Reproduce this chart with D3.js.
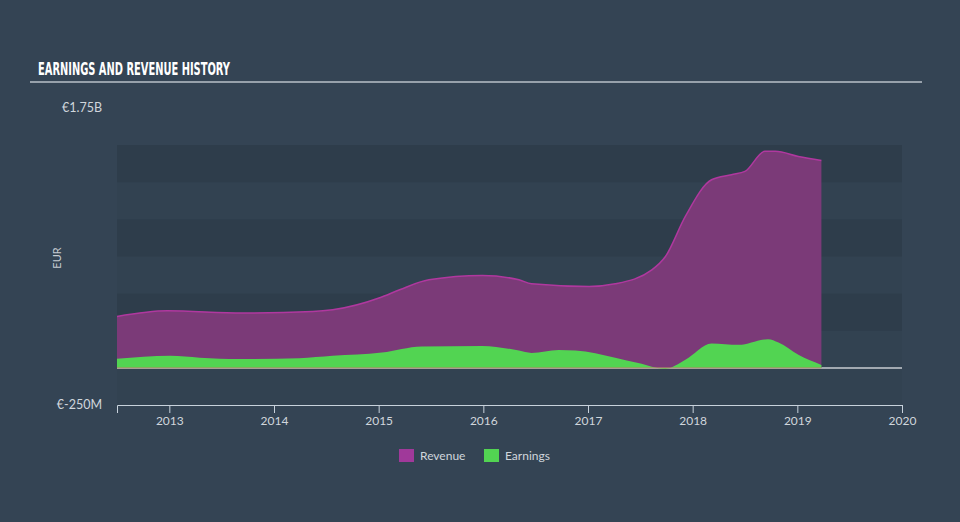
<!DOCTYPE html>
<html>
<head>
<meta charset="utf-8">
<script src="https://cdn.jsdelivr.net/npm/d3@7"></script>
<style>
  html, body { margin: 0; padding: 0; background: #344454; }
  svg { display: block; }
</style>
</head>
<body>
<svg id="chart" width="960" height="522"></svg>
<script>
// data (decimal year, millions EUR)
var revDates = [2012.5, 2012.98, 2013.7, 2014.37, 2014.56, 2015.01, 2015.2, 2015.48, 2015.99, 2016.34, 2016.46, 2017.01, 2017.26, 2017.61, 2017.74, 2017.93, 2018.18, 2018.37, 2018.5, 2018.69, 2018.79, 2019.01, 2019.23];
var revenue  = [346, 384, 369, 379, 391, 472, 526, 593, 622, 593, 566, 548, 566, 660, 750, 1020, 1267, 1301, 1323, 1458, 1458, 1424, 1397];
var earnDates = [2012.5, 2013.01, 2013.29, 2013.67, 2014.24, 2014.56, 2015.03, 2015.41, 2015.99, 2016.34, 2016.46, 2016.72, 2016.88, 2017.26, 2017.48, 2017.74, 2017.93, 2018.18, 2018.44, 2018.72, 2018.82, 2019.01, 2019.23];
var earnings  = [61, 81, 69, 59, 65, 81, 103, 144, 148, 117, 101, 121, 117, 69, 32, -7, 54, 164, 155, 193, 171, 88, 20];
var yearTicks = [2013, 2014, 2015, 2016, 2017, 2018, 2019, 2020];
var bandEdges = [1500, 1250, 1000, 750, 500, 250, 0];

var svg = d3.select("#chart");

var x = d3.scaleLinear().domain([2012.5, 2020]).range([117, 902]);
var y = d3.scaleLinear().domain([-250, 1750]).range([405, 108]);

// title
svg.append("text")
    .attr("x", 38).attr("y", 75)
    .attr("fill", "#ffffff")
    .attr("font-family", "'Liberation Sans Narrow', 'DejaVu Sans Condensed', sans-serif")
    .attr("font-weight", "bold")
    .attr("font-size", 18)
    .attr("textLength", 192)
    .attr("lengthAdjust", "spacingAndGlyphs")
    .text("EARNINGS AND REVENUE HISTORY");
svg.append("line")
    .attr("x1", 30).attr("x2", 922).attr("y1", 82).attr("y2", 82)
    .attr("stroke", "#b8c0c8").attr("stroke-width", 1.5);

// background bands
svg.append("rect")
    .attr("x", x(2012.5)).attr("y", y(1500))
    .attr("width", x(2020) - x(2012.5)).attr("height", y(-250) - y(1500))
    .attr("fill", "#324251");
for (var i = 0; i < bandEdges.length - 1; i += 2) {
    svg.append("rect")
        .attr("x", x(2012.5)).attr("y", y(bandEdges[i]))
        .attr("width", x(2020) - x(2012.5))
        .attr("height", y(bandEdges[i + 1]) - y(bandEdges[i]))
        .attr("fill", "#2e3d4b");
}

var revData = revDates.map(function(d, i) { return {x: d, v: revenue[i]}; });
var earnData = earnDates.map(function(d, i) { return {x: d, v: earnings[i]}; });

var area = d3.area()
    .x(function(d) { return x(d.x); })
    .y0(y(0))
    .y1(function(d) { return y(d.v); })
    .curve(d3.curveMonotoneX);
var line = d3.line()
    .x(function(d) { return x(d.x); })
    .y(function(d) { return y(d.v); })
    .curve(d3.curveMonotoneX);

// zero line
svg.append("line")
    .attr("x1", x(2012.5)).attr("x2", x(2020))
    .attr("y1", y(0)).attr("y2", y(0))
    .attr("stroke", "#c8cdd2").attr("stroke-width", 1.5);

svg.append("path").attr("d", area(revData)).attr("fill", "#7b3a78");
svg.append("path").attr("d", line(revData)).attr("fill", "none")
    .attr("stroke", "#b0389f").attr("stroke-width", 1.5);
svg.append("path").attr("d", area(earnData)).attr("fill", "#52d452");

svg.append("line")
    .attr("x1", x(2012.5)).attr("x2", x(2019.23))
    .attr("y1", y(0)).attr("y2", y(0))
    .attr("stroke", "#b08a6a").attr("stroke-width", 1);

// x axis
var xAxis = d3.axisBottom(x)
    .tickValues(yearTicks)
    .tickFormat(d3.format("d"))
    .tickSize(8)
    .tickPadding(3);
var gx = svg.append("g")
    .attr("transform", "translate(0," + y(-250) + ")")
    .call(xAxis);
gx.select(".domain").attr("stroke", "#c8d2dc");
gx.selectAll(".tick line").attr("stroke", "#c8d2dc");
gx.selectAll(".tick text")
    .attr("fill", "#d0d6dc")
    .attr("font-family", "Lato, 'Open Sans', sans-serif")
    .attr("font-size", 12);

// y labels
var yLabels = [[1750, "€1.75B"], [-250, "€-250M"]];
svg.selectAll(".ylab").data(yLabels).enter().append("text")
    .attr("x", 102).attr("y", function(d) { return y(d[0]) + 4; })
    .attr("text-anchor", "end")
    .attr("fill", "#d0d6dc")
    .attr("font-family", "Lato, 'Open Sans', sans-serif")
    .attr("font-size", 12.5)
    .text(function(d) { return d[1]; });
svg.append("text")
    .attr("transform", "translate(61,258) rotate(-90)")
    .attr("text-anchor", "middle")
    .attr("fill", "#c6ccd2")
    .attr("font-family", "Lato, 'Open Sans', sans-serif")
    .attr("font-size", 11)
    .text("EUR");

// legend
var legend = [["Revenue", "#a0399a", 399], ["Earnings", "#52d452", 484]];
var lg = svg.selectAll(".lg").data(legend).enter().append("g")
    .attr("transform", function(d) { return "translate(" + d[2] + ",449)"; });
lg.append("rect").attr("width", 15).attr("height", 13).attr("fill", function(d) { return d[1]; });
lg.append("text").attr("x", 21).attr("y", 11)
    .attr("fill", "#d0d6dc")
    .attr("font-family", "Lato, 'Open Sans', sans-serif")
    .attr("font-size", 12)
    .text(function(d) { return d[0]; });
</script>
</body>
</html>
